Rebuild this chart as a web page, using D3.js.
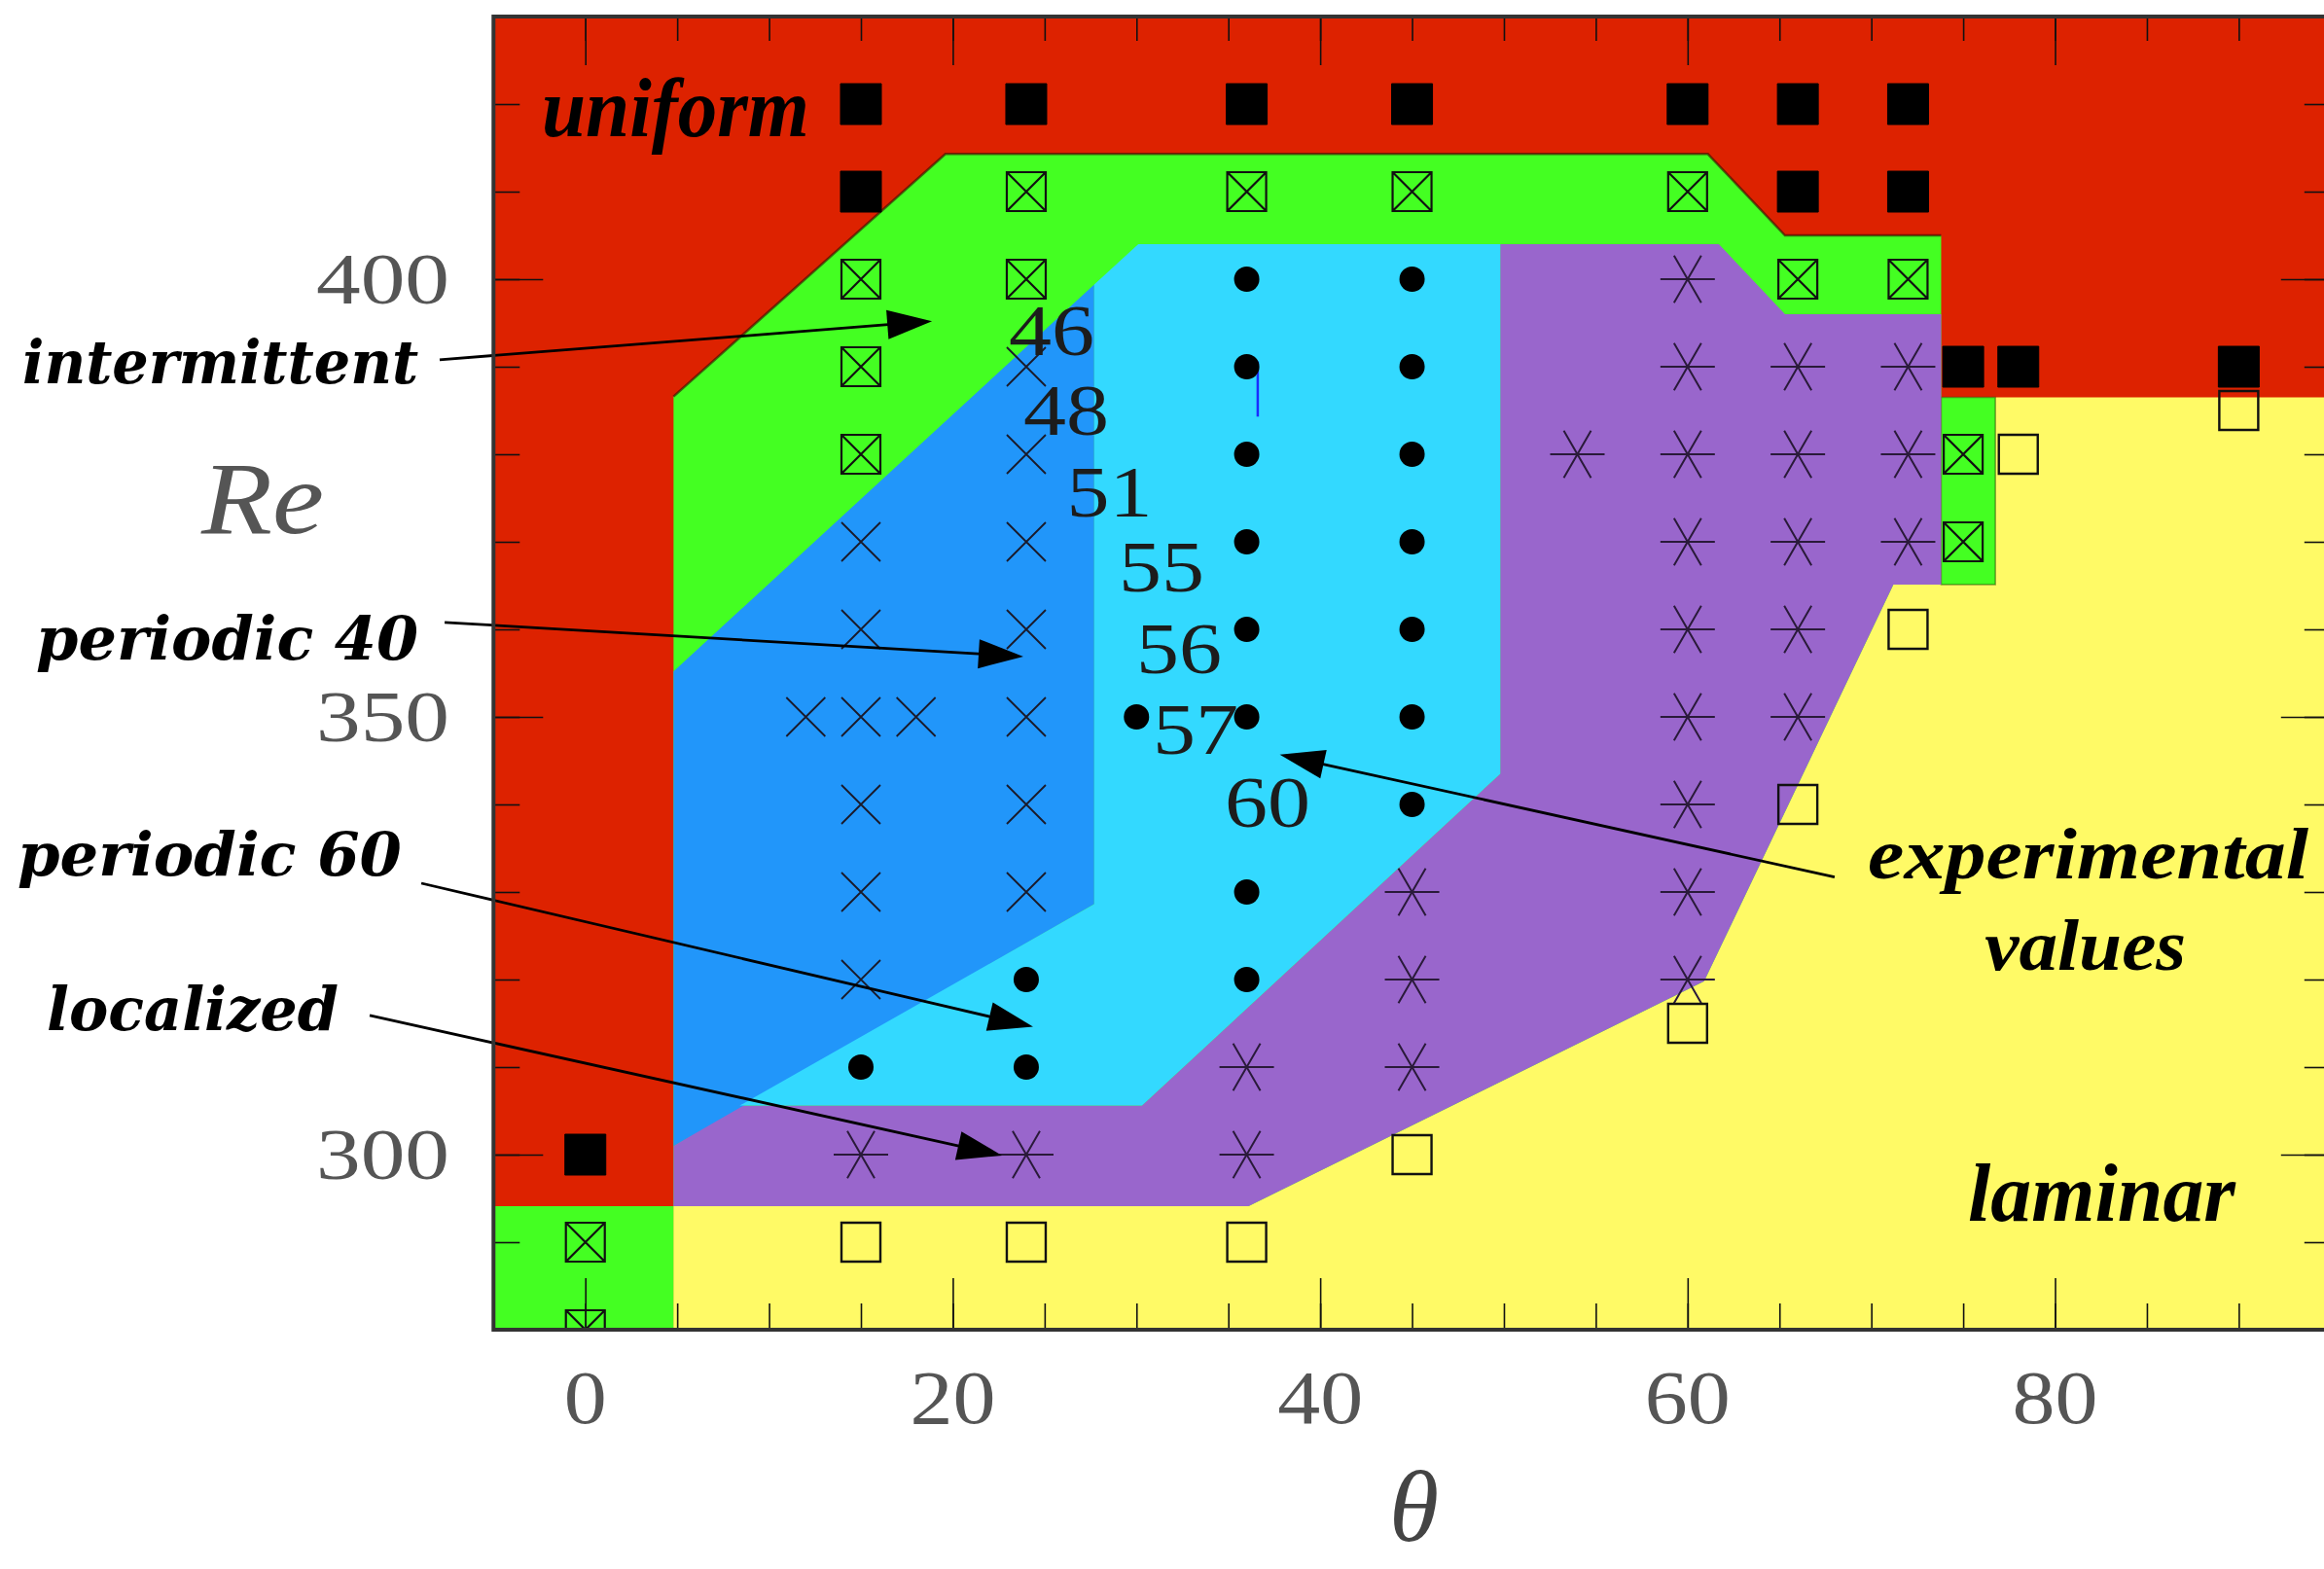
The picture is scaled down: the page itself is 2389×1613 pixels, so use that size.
<!DOCTYPE html>
<meta charset="utf-8">
<script src="https://d3js.org/d3.v7.min.js"></script>
<style>
  body { margin: 0; background: #fff; }
</style>
<div id="chart"></div>
<script>
    // sample points, [theta, Re]
    var uniformPts = [[15,420],[24,420],[36,420],[45,420],[60,420],[66,420],[72,420],
                      [15,410],[66,410],[72,410],
                      [75,390],[78,390],[90,390],
                      [0,300]];
    var intermittentPts = [[24,410],[36,410],[45,410],[60,410],
                           [15,400],[24,400],[66,400],[72,400],
                           [15,390],[15,380],[75,380],[75,370],
                           [0,290],[0,280]];
    var periodic40Pts = [[24,390],[24,380],[15,370],[24,370],[15,360],[24,360],
                         [12,350],[15,350],[18,350],[24,350],
                         [15,340],[24,340],[15,330],[24,330],[15,320]];
    var periodic60Pts = [[36,400],[45,400],[36,390],[45,390],[36,380],[45,380],
                         [36,370],[45,370],[36,360],[45,360],
                         [30,350],[36,350],[45,350],[45,340],[36,330],
                         [24,320],[36,320],[15,310],[24,310]];
    var localizedPts = [[60,400],[60,390],[66,390],[72,390],
                        [54,380],[60,380],[66,380],[72,380],
                        [60,370],[66,370],[72,370],[60,360],[66,360],
                        [60,350],[66,350],[60,340],[45,330],[60,330],
                        [45,320],[60,320],[36,310],[45,310],
                        [15,300],[24,300],[36,300]];
    var laminarPts = [[90,385],[78,380],[72,360],[66,340],[60,315],[45,300],
                      [15,290],[24,290],[36,290]];

    // region boundaries, [theta, Re]
    var regionIntermittent = [[4.8,280],[4.8,386.6],[19.6,414.3],[61.1,414.3],[65.3,405],[73.8,405],[73.8,280]];
    var regionIntermittentLow = [[-5,280],[-5,294.1],[4.8,294.1],[4.8,280]];
    var regionIntermittentRight = [[73.8,386.5],[76.75,386.5],[76.75,365.1],[73.8,365.1]];
    var regionPeriodic40 = [[4.8,355.2],[27.7,399.4],[27.7,328.6],[4.8,301]];
    var regionPeriodic60 = [[27.7,399.4],[30.1,404],[49.8,404],[49.8,343.5],[30.3,305.6],[8.4,305.6],[27.7,328.6]];
    var regionLocalized = [[4.8,301],[8.4,305.6],[30.3,305.6],[49.8,343.5],[49.8,404],[61.7,404],[65.3,396],
                           [73.8,396],[73.8,365.1],[71.2,365.1],[60.9,319.8],[36.1,294.1],[4.8,294.1]];
    var regionLaminar = [[4.8,280],[4.8,294.1],[36.1,294.1],[60.9,319.8],[71.2,365.1],[73.8,365.1],
                         [73.8,386.5],[95,386.5],[95,280]];
    var strayMark = [[36.6,390.6],[36.6,384.3]];

    var xMajor = [0, 20, 40, 60, 80];
    var xMinor = [0,5,10,15,20,25,30,35,40,45,50,55,60,65,70,75,80,85,90];
    var yMajor = [300, 350, 400];
    var yMinor = [290,300,310,320,330,340,350,360,370,380,390,400,410,420];

    var valueLabels = [
      {t: "46", at: [23.05, 391.3]}, {t: "48", at: [23.84, 382.2]}, {t: "51", at: [26.2, 372.9]},
      {t: "55", at: [29.03, 364.3]}, {t: "56", at: [29.99, 355.0]}, {t: "57", at: [30.89, 345.8]},
      {t: "60", at: [34.81, 337.4]}
    ];
    var regionLabels = [
      {t: "intermittent", at: [-30.64, 388.1], w: 407, wide: true},
      {t: "periodic 40", at: [-29.9, 356.6], w: 393, wide: true},
      {t: "periodic  60", at: [-30.91, 331.9], w: 395, wide: true},
      {t: "localized", at: [-29.32, 314.2], w: 300, wide: true},
      {t: "uniform", at: [-2.37, 416.3], w: 275, size: 86},
      {t: "experimental", at: [69.81, 331.6], w: 453, size: 74},
      {t: "values", at: [76.17, 321.1], w: 207, size: 74},
      {t: "laminar", at: [75.26, 292.4], w: 275, size: 84}
    ];
    var arrows = [
      {from: [-7.93, 390.8], to: [18.87, 395.2]},
      {from: [-7.66, 360.8], to: [23.84, 356.9]},
      {from: [-8.93, 331.0], to: [24.37, 314.6]},
      {from: [-11.74, 315.9], to: [22.68, 299.9]},
      {from: [68.0, 331.7], to: [37.8, 345.7]}
    ];

    var width = 2389, height = 1613;
    var plot = {left: 507.3, right: 2395.8, top: 17, bottom: 1367};

    var svg = d3.select("#chart")
      .append("svg")
        .attr("width", width)
        .attr("height", height);

    var x = d3.scaleLinear().domain([-5, 95]).range([plot.left, plot.right]);
    var y = d3.scaleLinear().domain([280, 430]).range([plot.bottom, plot.top]);

    svg.append("clipPath").attr("id", "plotclip")
      .append("rect")
        .attr("x", x(-5)).attr("y", y(430))
        .attr("width", x(95) - x(-5)).attr("height", y(280) - y(430));

    var area = d3.line().x(function(d) { return x(d[0]) }).y(function(d) { return y(d[1]) });
    function poly(pts) { return area(pts) + "Z"; }

    // regions
    svg.append("rect")
      .attr("x", x(-5)).attr("y", y(430))
      .attr("width", x(95) - x(-5)).attr("height", y(280) - y(430))
      .attr("fill", "#dd2200");
    svg.append("path").attr("d", poly(regionIntermittent)).attr("fill", "#44ff22");
    svg.append("path").attr("d", area(regionIntermittent.slice(1, 6)))
      .attr("fill", "none").attr("stroke", "rgba(50,10,0,0.6)").attr("stroke-width", 2.5);
    svg.append("path").attr("d", poly(regionIntermittentLow)).attr("fill", "#44ff22");
    svg.append("path").attr("d", poly(regionLaminar)).attr("fill", "#fffa66");
    svg.append("path").attr("d", poly(regionIntermittentRight)).attr("fill", "#44ff22")
      .attr("stroke", "rgba(40,60,0,0.5)").attr("stroke-width", 1.5);
    svg.append("path").attr("d", poly(regionLocalized)).attr("fill", "#9966cc");
    svg.append("path").attr("d", poly(regionPeriodic40)).attr("fill", "#2196fa");
    svg.append("path").attr("d", poly(regionPeriodic60)).attr("fill", "#33d9ff");
    svg.append("path").attr("d", area(strayMark)).attr("stroke", "#1a2cff").attr("stroke-width", 2.5);

    // ticks, all pointing inward
    function ticks(axis, values, len, tx, ty) {
      var g = svg.append("g")
        .attr("transform", "translate(" + tx + "," + ty + ")")
        .call(axis.tickValues(values).tickSizeInner(-len).tickSizeOuter(0).tickFormat(""));
      g.select(".domain").remove();
      g.selectAll("line").attr("stroke", "#111").attr("stroke-width", 1.6);
    }
    ticks(d3.axisBottom(x), xMinor, 27, 0, plot.bottom);
    ticks(d3.axisBottom(x), xMajor, 53, 0, plot.bottom);
    ticks(d3.axisTop(x), xMinor, 25, 0, plot.top);
    ticks(d3.axisTop(x), xMajor, 50, 0, plot.top);
    ticks(d3.axisLeft(y), yMinor, 27, plot.left, 0);
    ticks(d3.axisLeft(y), yMajor, 51, plot.left, 0);
    ticks(d3.axisRight(y), yMinor, 27, plot.right, 0);
    ticks(d3.axisRight(y), yMajor, 51, plot.right, 0);

    // markers
    var boxCross = { draw: function(ctx, r) {
      ctx.moveTo(-r, -r); ctx.lineTo(r, -r); ctx.lineTo(r, r); ctx.lineTo(-r, r); ctx.closePath();
      ctx.moveTo(-r, -r); ctx.lineTo(r, r); ctx.moveTo(-r, r); ctx.lineTo(r, -r);
    }};
    var openBox = { draw: function(ctx, r) {
      ctx.moveTo(-r, -r); ctx.lineTo(r, -r); ctx.lineTo(r, r); ctx.lineTo(-r, r); ctx.closePath();
    }};
    var cross = { draw: function(ctx, r) {
      ctx.moveTo(-r, -r); ctx.lineTo(r, r); ctx.moveTo(-r, r); ctx.lineTo(r, -r);
    }};
    var star = { draw: function(ctx, r) {
      var u = r * 0.5, v = r * Math.sqrt(3) / 2;
      ctx.moveTo(-r, 0); ctx.lineTo(r, 0);
      ctx.moveTo(-u, -v); ctx.lineTo(u, v);
      ctx.moveTo(-u, v); ctx.lineTo(u, -v);
    }};

    var marks = svg.append("g").attr("clip-path", "url(#plotclip)");

    function markers(pts, type, r, fill, stroke, sw) {
      marks.append("g").selectAll("path")
        .data(pts)
        .enter().append("path")
          .attr("transform", function(d) { return "translate(" + x(d[0]) + "," + y(d[1]) + ")" })
          .attr("d", d3.symbol().type(type).size(r))
          .attr("fill", fill)
          .attr("stroke", stroke)
          .attr("stroke-width", sw);
    }
    markers(uniformPts, openBox, 21, "#000", "#000", 1);
    markers(intermittentPts, boxCross, 20, "none", "#111", 2.2);
    markers(periodic40Pts, cross, 20, "none", "#1a1a2a", 1.8);
    markers(localizedPts, star, 28, "none", "#2a1a3a", 2);
    markers(laminarPts, openBox, 20, "none", "#111", 2.4);
    marks.append("g").selectAll("circle")
      .data(periodic60Pts)
      .enter().append("circle")
        .attr("cx", function(d) { return x(d[0]) })
        .attr("cy", function(d) { return y(d[1]) })
        .attr("r", 13)
        .attr("fill", "#000");

    // value labels
    svg.append("g").selectAll("text")
      .data(valueLabels)
      .enter().append("text")
        .attr("x", function(d) { return x(d.at[0]) })
        .attr("y", function(d) { return y(d.at[1]) })
        .attr("font-family", "Liberation Serif")
        .attr("font-size", 74)
        .attr("fill", "#1c1c1c")
        .attr("textLength", 88)
        .attr("lengthAdjust", "spacingAndGlyphs")
        .text(function(d) { return d.t });

    // arrows
    arrows.forEach(function(a) {
      var p0 = [x(a.from[0]), y(a.from[1])], p1 = [x(a.to[0]), y(a.to[1])];
      var dx = p1[0] - p0[0], dy = p1[1] - p0[1], L = Math.hypot(dx, dy);
      var ux = dx / L, uy = dy / L, hl = 46, hw = 15;
      var bx = p1[0] - ux * hl, by = p1[1] - uy * hl;
      svg.append("line")
        .attr("x1", p0[0]).attr("y1", p0[1]).attr("x2", bx + ux * 4).attr("y2", by + uy * 4)
        .attr("stroke", "#000").attr("stroke-width", 2.8);
      svg.append("path")
        .attr("d", "M" + p1 + "L" + [bx - uy * hw, by + ux * hw] + "L" + [bx + uy * hw, by - ux * hw] + "Z")
        .attr("fill", "#000");
    });

    // region names
    svg.append("g").selectAll("text")
      .data(regionLabels)
      .enter().append("text")
        .attr("x", function(d) { return x(d.at[0]) })
        .attr("y", function(d) { return y(d.at[1]) })
        .attr("font-family", function(d) { return d.wide ? "DejaVu Serif" : "Liberation Serif" })
        .attr("font-size", function(d) { return d.wide ? 62 : d.size })
        .attr("font-weight", "bold")
        .attr("font-style", "italic")
        .attr("fill", "#000")
        .attr("textLength", function(d) { return d.w })
        .attr("lengthAdjust", "spacingAndGlyphs")
        .text(function(d) { return d.t });

    // tick labels
    svg.append("g").selectAll("text")
      .data(xMajor)
      .enter().append("text")
        .attr("x", function(d) { return x(d) })
        .attr("y", 1463)
        .attr("text-anchor", "middle")
        .attr("font-family", "Liberation Serif")
        .attr("font-size", 78)
        .attr("fill", "#555")
        .attr("textLength", function(d) { return String(d).length * 44 })
        .attr("lengthAdjust", "spacingAndGlyphs")
        .text(function(d) { return d });
    svg.append("g").selectAll("text")
      .data(yMajor)
      .enter().append("text")
        .attr("x", 462)
        .attr("y", function(d) { return y(d) + 25 })
        .attr("text-anchor", "end")
        .attr("font-family", "Liberation Serif")
        .attr("font-size", 74)
        .attr("fill", "#555")
        .attr("textLength", 137)
        .attr("lengthAdjust", "spacingAndGlyphs")
        .text(function(d) { return d });

    // axis titles
    svg.append("text")
      .attr("x", 207).attr("y", 548)
      .attr("font-family", "Liberation Serif").attr("font-style", "italic")
      .attr("font-size", 105).attr("fill", "#555")
      .attr("textLength", 126).attr("lengthAdjust", "spacingAndGlyphs")
      .text("Re");
    svg.append("text")
      .attr("x", x(45.1)).attr("y", 1584)
      .attr("text-anchor", "middle")
      .attr("font-family", "Liberation Serif").attr("font-style", "italic")
      .attr("font-size", 104).attr("fill", "#444")
      .text("θ");

    // frame
    svg.append("rect")
      .attr("x", x(-5)).attr("y", y(430))
      .attr("width", x(95) - x(-5)).attr("height", y(280) - y(430))
      .attr("fill", "none")
      .attr("stroke", "#333")
      .attr("stroke-width", 4);
</script>
